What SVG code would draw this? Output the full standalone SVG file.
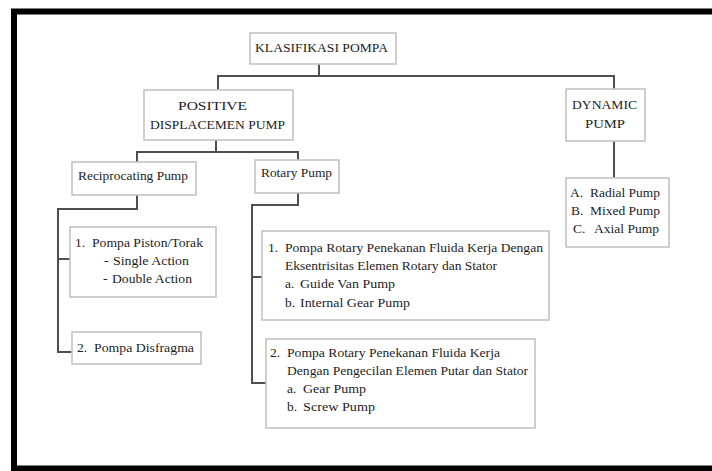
<svg xmlns="http://www.w3.org/2000/svg" width="712" height="471" viewBox="0 0 712 471">
<style>
.bg{fill:#ffffff}
.frame{fill:none;stroke:#000;stroke-width:6}
.box{fill:#fff;stroke:#c4c4c4;stroke-width:1.6}
.conn{fill:none;stroke:#4f4f4f;stroke-width:2;stroke-linejoin:miter}
text{font-family:"Liberation Serif","Times New Roman",serif;font-size:13.5px;fill:#1e1e1e}
.c{text-anchor:middle}
</style>
<rect class="bg" x="0" y="0" width="712" height="471"/>
<rect class="frame" x="14" y="11.5" width="720" height="457"/>

<g id="connectors">
  <path class="conn" d="M319,64 V76 M218,90 V76 H614 V89"/>
  <path class="conn" d="M216,140 V152 M137,162 V152 H298 V160"/>
  <path class="conn" d="M137,195 V209 H58 V352 H72 M58,259 H70"/>
  <path class="conn" d="M298,193 V205 H252 V383 H266 M252,277 H262"/>
  <path class="conn" d="M614,141 V178"/>
</g>

<g id="klasifikasi">
  <rect class="box" x="250" y="33" width="146" height="31"/>
  <text x="321.5" y="52" class="c" textLength="133" lengthAdjust="spacingAndGlyphs">KLASIFIKASI POMPA</text>
</g>

<g id="positive">
  <rect class="box" x="144" y="90" width="149" height="50"/>
  <text x="212.5" y="110" class="c" textLength="69" lengthAdjust="spacingAndGlyphs">POSITIVE</text>
  <text x="217.5" y="129" class="c" textLength="135" lengthAdjust="spacingAndGlyphs">DISPLACEMEN PUMP</text>
</g>

<g id="dynamic">
  <rect class="box" x="566" y="89" width="79" height="52"/>
  <text x="604.5" y="109" class="c" textLength="65" lengthAdjust="spacingAndGlyphs">DYNAMIC</text>
  <text x="605" y="128" class="c" textLength="40" lengthAdjust="spacingAndGlyphs">PUMP</text>
</g>

<g id="reciprocating">
  <rect class="box" x="72" y="162" width="124" height="33"/>
  <text x="78" y="180" textLength="110" lengthAdjust="spacingAndGlyphs">Reciprocating Pump</text>
</g>

<g id="rotary">
  <rect class="box" x="255" y="160" width="84" height="33"/>
  <text x="261" y="177" textLength="71" lengthAdjust="spacingAndGlyphs">Rotary Pump</text>
</g>

<g id="piston">
  <rect class="box" x="70" y="227" width="146" height="70"/>
  <text x="75" y="247">1.</text>
  <text x="92" y="247" textLength="111" lengthAdjust="spacingAndGlyphs">Pompa Piston/Torak</text>
  <text x="104" y="265">-</text>
  <text x="113" y="265" textLength="76" lengthAdjust="spacingAndGlyphs">Single Action</text>
  <text x="103" y="283">-</text>
  <text x="112" y="283" textLength="80" lengthAdjust="spacingAndGlyphs">Double Action</text>
</g>

<g id="disfragma">
  <rect class="box" x="72" y="332" width="129" height="32"/>
  <text x="77" y="352">2.</text>
  <text x="94" y="352" textLength="100" lengthAdjust="spacingAndGlyphs">Pompa Disfragma</text>
</g>

<g id="rotary1">
  <rect class="box" x="262" y="231" width="287" height="89"/>
  <text x="268" y="252">1.</text>
  <text x="285" y="252" textLength="258" lengthAdjust="spacingAndGlyphs">Pompa Rotary Penekanan Fluida Kerja Dengan</text>
  <text x="285" y="270" textLength="212" lengthAdjust="spacingAndGlyphs">Eksentrisitas Elemen Rotary dan Stator</text>
  <text x="285" y="288">a.</text>
  <text x="300" y="288" textLength="95" lengthAdjust="spacingAndGlyphs">Guide Van Pump</text>
  <text x="285" y="307">b.</text>
  <text x="300" y="307" textLength="110" lengthAdjust="spacingAndGlyphs">Internal Gear Pump</text>
</g>

<g id="rotary2">
  <rect class="box" x="266" y="339" width="269" height="89"/>
  <text x="270" y="357">2.</text>
  <text x="287" y="357" textLength="213" lengthAdjust="spacingAndGlyphs">Pompa Rotary Penekanan Fluida Kerja</text>
  <text x="287" y="375" textLength="241" lengthAdjust="spacingAndGlyphs">Dengan Pengecilan Elemen Putar dan Stator</text>
  <text x="287" y="393">a.</text>
  <text x="303" y="393" textLength="63" lengthAdjust="spacingAndGlyphs">Gear Pump</text>
  <text x="287" y="411">b.</text>
  <text x="303" y="411" textLength="72" lengthAdjust="spacingAndGlyphs">Screw Pump</text>
</g>

<g id="dynamic-list">
  <rect class="box" x="566" y="178" width="103" height="69"/>
  <text x="570" y="197">A.</text>
  <text x="590" y="197" textLength="70" lengthAdjust="spacingAndGlyphs">Radial Pump</text>
  <text x="571" y="215">B.</text>
  <text x="590" y="215" textLength="70" lengthAdjust="spacingAndGlyphs">Mixed Pump</text>
  <text x="573" y="233">C.</text>
  <text x="594" y="233" textLength="65" lengthAdjust="spacingAndGlyphs">Axial Pump</text>
</g>
</svg>
